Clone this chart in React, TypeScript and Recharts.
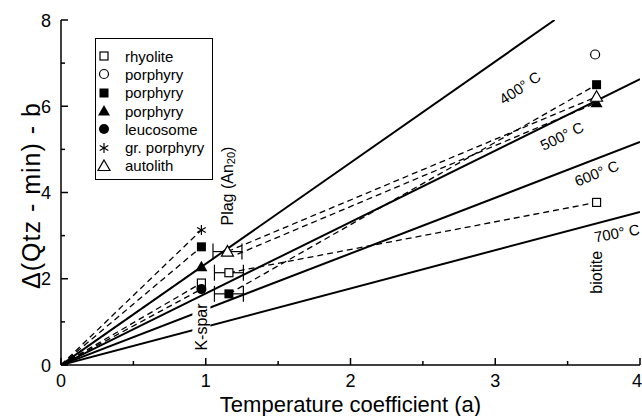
import React from "react";
import {
  ScatterChart,
  Scatter,
  XAxis,
  YAxis,
  ErrorBar,
  ReferenceDot,
  Legend,
} from "recharts";

const FONT = "'Liberation Sans', Arial, Helvetica, sans-serif";

const xTicks = [0, 0.5, 1, 1.5, 2, 2.5, 3, 3.5, 4];
const yTicks = [0, 1, 2, 3, 4, 5, 6, 7, 8];

// isotherms, straight lines from the origin
const iso400 = [{ a: 0, d: 0 }, { a: 3.41, d: 8 }];
const iso500 = [{ a: 0, d: 0 }, { a: 4, d: 6.63 }];
const iso600 = [{ a: 0, d: 0 }, { a: 4, d: 5.17 }];
const iso700 = [{ a: 0, d: 0 }, { a: 4, d: 3.55 }];

const isoLabels = ["400° C", "500° C", "600° C", "700° C"];
const isoLabelA = [3.17, 3.46, 3.7, 3.84];
const isoLabelD = [6.43, 5.31, 4.45, 3.06];
const isoLabelAngle = [-34, -26, -22, -10];

// samples (legend order)
const sampleNames = ["rhyolite", "porphyry", "porphyry", "porphyry", "leucosome", "gr. porphyry", "autolith"];
const sampleSymbols = ["openSquare", "openCircle", "filledSquare", "filledTriangle", "filledCircle", "asterisk", "openTriangle"];

// K-spar
const ksparA = [0.97, null, 0.97, 0.97, 0.97, 0.97, null];
const ksparD = [1.9, null, 2.74, 2.28, 1.76, 3.13, null];
// plagioclase
const plagA = [1.16, null, 1.16, 1.22, null, null, 1.15];
const plagD = [2.14, null, 1.65, 2.57, null, null, 2.63];
const plagShown = [true, false, true, false, false, false, true];
const plagErr = 0.1;
// biotite
const biotiteA = [3.7, 3.69, 3.7, 3.7, null, null, 3.7];
const biotiteD = [3.77, 7.2, 6.5, 6.08, null, null, 6.22];

const origin = { a: 0, d: 0 };

function Marker({ kind, cx, cy }: { kind: string; cx: number; cy: number }) {
  const k = "#000";
  switch (kind) {
    case "openSquare":
      return <rect x={cx - 4} y={cy - 4} width={8} height={8} fill="#fff" stroke={k} strokeWidth={1.2} />;
    case "filledSquare":
      return <rect x={cx - 4.5} y={cy - 4.5} width={9} height={9} fill={k} />;
    case "openCircle":
      return <circle cx={cx} cy={cy} r={4.5} fill="#fff" stroke={k} strokeWidth={1.2} />;
    case "filledCircle":
      return <circle cx={cx} cy={cy} r={5} fill={k} />;
    case "filledTriangle":
      return <polygon points={`${cx},${cy - 6} ${cx + 6},${cy + 4.5} ${cx - 6},${cy + 4.5}`} fill={k} />;
    case "openTriangle":
      return (
        <polygon
          points={`${cx},${cy - 6} ${cx + 6},${cy + 4.5} ${cx - 6},${cy + 4.5}`}
          fill="#fff"
          stroke={k}
          strokeWidth={1.2}
        />
      );
    case "asterisk": {
      const r = 5;
      return (
        <g stroke={k} strokeWidth={1.2}>
          <line x1={cx} y1={cy - r} x2={cx} y2={cy + r} />
          <line x1={cx - r * 0.866} y1={cy - r / 2} x2={cx + r * 0.866} y2={cy + r / 2} />
          <line x1={cx - r * 0.866} y1={cy + r / 2} x2={cx + r * 0.866} y2={cy - r / 2} />
        </g>
      );
    }
  }
  return <g />;
}

const noDot = () => <g />;

function XTick(props: any) {
  const { x, y, payload, top } = props;
  const major = Number.isInteger(payload.value);
  const len = major ? 7 : 4;
  const last = payload.value === xTicks[xTicks.length - 1];
  return (
    <g>
      <line x1={x} x2={x} y1={y} y2={top ? y + len : y - len} stroke="#000" strokeWidth={1.5} />
      {major && !top && (
        <text
          x={last ? x + 2 : x}
          y={y + 22}
          textAnchor={last ? "end" : "middle"}
          fontSize={18}
          fontFamily={FONT}
          fill="#000"
        >
          {payload.value}
        </text>
      )}
    </g>
  );
}

function YTick(props: any) {
  const { x, y, payload, right } = props;
  const major = payload.value % 2 === 0;
  const len = major ? 7 : 4;
  return (
    <g>
      <line x1={x} x2={right ? x - len : x + len} y1={y} y2={y} stroke="#000" strokeWidth={1.5} />
      {major && !right && (
        <text x={x - 10} y={y + 6.5} textAnchor="end" fontSize={18} fontFamily={FONT} fill="#000">
          {payload.value}
        </text>
      )}
    </g>
  );
}

function RotText(props: any) {
  const { viewBox, text, angle, size, bg } = props;
  const cx = viewBox.x + (viewBox.width || 0) / 2;
  const cy = viewBox.y + (viewBox.height || 0) / 2;
  return (
    <g transform={`translate(${cx},${cy}) rotate(${angle})`}>
      {bg && <rect x={-bg / 2} y={-9} width={bg} height={18} fill="#fff" />}
      <text textAnchor="middle" dominantBaseline="central" fontSize={size} fontFamily={FONT} fill="#000">
        {text}
      </text>
    </g>
  );
}

function PlagLabel(props: any) {
  const { viewBox } = props;
  return (
    <g transform={`translate(${viewBox.x},${viewBox.y}) rotate(-90)`}>
      <text textAnchor="middle" dominantBaseline="central" fontSize={16} fontFamily={FONT} fill="#000">
        Plag (An
        <tspan fontSize={11} dy={4}>20</tspan>
        <tspan dy={-4}>)</tspan>
      </text>
    </g>
  );
}

function LegendBox() {
  return (
    <div
      style={{
        width: 118,
        height: 142,
        boxSizing: "border-box",
        border: "1.5px solid #000",
        background: "#fff",
        padding: "8px 0 0 0",
        fontFamily: FONT,
        fontSize: 15,
        color: "#000",
      }}
    >
      {sampleNames.map((n, i) => (
        <div key={i} style={{ display: "flex", alignItems: "center", height: 18.3 }}>
          <svg width={29} height={16} style={{ flex: "none" }}>
            <Marker kind={sampleSymbols[i]} cx={8} cy={8} />
          </svg>
          <span style={{ whiteSpace: "nowrap" }}>{n}</span>
        </div>
      ))}
    </div>
  );
}

export default function App() {
  const solid = { stroke: "#000", strokeWidth: 2 };
  const dashed = { stroke: "#000", strokeWidth: 1.3, strokeDasharray: "6 4" };

  const ksparTies = sampleNames
    .map((_, i) => (ksparA[i] == null ? null : [origin, { a: ksparA[i] as number, d: ksparD[i] as number }]))
    .filter(Boolean) as any[];
  const biotiteTies = sampleNames
    .map((_, i) =>
      plagA[i] == null || biotiteA[i] == null
        ? null
        : [
            { a: plagA[i] as number, d: plagD[i] as number },
            { a: biotiteA[i] as number, d: biotiteD[i] as number },
          ]
    )
    .filter(Boolean) as any[];

  return (
    <div style={{ position: "absolute", left: 0, top: 0, background: "#fff" }}>
      <ScatterChart
        width={642}
        height={416}
        margin={{ top: 20, right: 2, bottom: 0, left: 0 }}
        style={{ fontFamily: FONT }}
      >
        <XAxis
          xAxisId="b"
          type="number"
          dataKey="a"
          domain={[0, 4]}
          ticks={xTicks}
          interval={0}
          allowDataOverflow
          height={51}
          tickSize={0}
          tickMargin={0}
          tickLine={false}
          axisLine={{ stroke: "#000", strokeWidth: 1.5 }}
          tick={<XTick />}
          label={{
            content: (p: any) => (
              <text
                x={p.viewBox.x + p.viewBox.width / 2}
                y={p.viewBox.y + 47}
                textAnchor="middle"
                fontSize={22}
                fontFamily={FONT}
                fill="#000"
              >
                Temperature coefficient (a)
              </text>
            ),
          }}
        />
        <XAxis
          xAxisId="t"
          orientation="top"
          type="number"
          dataKey="a"
          domain={[0, 4]}
          ticks={xTicks}
          interval={0}
          allowDataOverflow
          height={0}
          tickSize={0}
          tickMargin={0}
          tickLine={false}
          axisLine={{ stroke: "#000", strokeWidth: 1.5 }}
          tick={<XTick top />}
        />
        <YAxis
          yAxisId="l"
          type="number"
          dataKey="d"
          domain={[0, 8]}
          ticks={yTicks}
          interval={0}
          allowDataOverflow
          width={61}
          tickSize={0}
          tickMargin={0}
          tickLine={false}
          axisLine={{ stroke: "#000", strokeWidth: 1.5 }}
          tick={<YTick />}
          label={{
            content: (p: any) => (
              <text
                transform={`translate(40,${p.viewBox.y + p.viewBox.height / 2 + 3}) rotate(-90)`}
                textAnchor="middle"
                fontSize={25}
                letterSpacing={1}
                fontFamily={FONT}
                fill="#000"
              >
                Δ(Qtz - min) - b
              </text>
            ),
          }}
        />
        <YAxis
          yAxisId="r"
          orientation="right"
          type="number"
          dataKey="d"
          domain={[0, 8]}
          ticks={yTicks}
          interval={0}
          allowDataOverflow
          width={0}
          tickSize={0}
          tickMargin={0}
          tickLine={false}
          axisLine={{ stroke: "#000", strokeWidth: 1.5 }}
          tick={<YTick right />}
        />

        {[iso400, iso500, iso600, iso700].map((d, i) => (
          <Scatter
            key={"iso" + i}
            xAxisId="b"
            yAxisId="l"
            data={d}
            line={solid}
            stroke="#000"
            shape={noDot}
            isAnimationActive={false}
          />
        ))}

        {ksparTies.map((d, i) => (
          <Scatter
            key={"kt" + i}
            xAxisId="b"
            yAxisId="l"
            data={d}
            line={dashed}
            stroke="#000"
            shape={noDot}
            isAnimationActive={false}
          />
        ))}
        {biotiteTies.map((d, i) => (
          <Scatter
            key={"bt" + i}
            xAxisId="b"
            yAxisId="l"
            data={d}
            line={dashed}
            stroke="#000"
            shape={noDot}
            isAnimationActive={false}
          />
        ))}

        {isoLabels.map((t, i) => (
          <ReferenceDot
            key={"il" + i}
            xAxisId="b"
            yAxisId="l"
            x={isoLabelA[i]}
            y={isoLabelD[i]}
            r={0}
            fill="none"
            stroke="none"
            label={(p: any) => <RotText {...p} text={t} angle={isoLabelAngle[i]} size={15} />}
          />
        ))}
        <ReferenceDot
          xAxisId="b"
          yAxisId="l"
          x={3.7}
          y={2.15}
          r={0}
          fill="none"
          stroke="none"
          label={(p: any) => <RotText {...p} text="biotite" angle={-90} size={16} />}
        />
        <ReferenceDot
          xAxisId="b"
          yAxisId="l"
          x={0.97}
          y={0.88}
          r={0}
          fill="none"
          stroke="none"
          label={(p: any) => <RotText {...p} text="K-spar" angle={-90} size={16} bg={52} />}
        />
        <ReferenceDot
          xAxisId="b"
          yAxisId="l"
          x={1.15}
          y={4.15}
          r={0}
          fill="none"
          stroke="none"
          label={(p: any) => <PlagLabel {...p} />}
        />

        {sampleNames.map((_, i) => {
          const pts: any[] = [];
          if (ksparA[i] != null) pts.push({ a: ksparA[i], d: ksparD[i] });
          if (biotiteA[i] != null) pts.push({ a: biotiteA[i], d: biotiteD[i] });
          return (
            <Scatter
              key={"m" + i}
              name={sampleNames[i]}
              xAxisId="b"
              yAxisId="l"
              data={pts}
              shape={(p: any) => <Marker kind={sampleSymbols[i]} cx={p.cx} cy={p.cy} />}
              isAnimationActive={false}
            />
          );
        })}
        {sampleNames.map((_, i) =>
          plagShown[i] ? (
            <Scatter
              key={"p" + i}
              xAxisId="b"
              yAxisId="l"
              data={[{ a: plagA[i], d: plagD[i], e: plagErr }]}
              shape={(p: any) => <Marker kind={sampleSymbols[i]} cx={p.cx} cy={p.cy} />}
              isAnimationActive={false}
            >
              <ErrorBar dataKey="e" direction="x" width={8} stroke="#000" strokeWidth={1.2} />
            </Scatter>
          ) : null
        )}

        <Legend
          layout="vertical"
          align="center"
          verticalAlign="middle"
          wrapperStyle={{ left: 95, top: 38, width: 118, height: 142 }}
          content={() => <LegendBox />}
        />
      </ScatterChart>
    </div>
  );
}
